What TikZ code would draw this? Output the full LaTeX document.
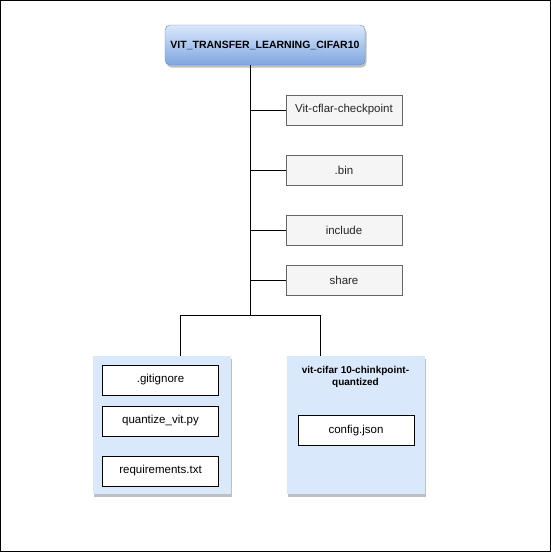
\documentclass[tikz,border=0pt]{standalone}
\usepackage{fontspec}
\setmainfont{Liberation Sans}
\usetikzlibrary{shadows}
\definecolor{rootTop}{HTML}{DAE8FC}
\definecolor{rootBot}{HTML}{7EA6E0}
\definecolor{rootLine}{HTML}{6C8EBF}
\definecolor{grayFill}{HTML}{F5F5F5}
\definecolor{grayLine}{HTML}{666666}
\definecolor{contFill}{HTML}{DAE8FC}
\tikzset{
  x=1pt, y=-1pt,
  every node/.style={inner sep=0pt, outer sep=0pt},
  rootbox/.style={draw=rootLine, rounded corners=5pt, top color=rootTop, bottom color=rootBot,
     minimum width=200pt, minimum height=40pt, font=\fontsize{10.5}{12}\selectfont\bfseries,
     drop shadow={shadow xshift=1.5pt, shadow yshift=-2.5pt, opacity=0.25, fill=black}},
  graybox/.style={draw=grayLine, fill=grayFill, minimum width=116pt, minimum height=30pt,
     font=\fontsize{11.5}{13}\selectfont, text=black!85},
  contbox/.style={fill=contFill, minimum width=138pt, minimum height=138pt,
     drop shadow={shadow xshift=1.5pt, shadow yshift=-2.5pt, opacity=0.25, fill=black}},
  filebox/.style={draw=black, fill=white, minimum width=116pt, minimum height=30pt,
     font=\fontsize{11.5}{13}\selectfont},
  conttitle/.style={font=\fontsize{10}{12.5}\selectfont\bfseries, align=center},
  link/.style={draw=black, line width=1pt},
}
\begin{document}
\begin{tikzpicture}
\useasboundingbox (0,0) rectangle (551,552);
\draw[line width=1pt] (0.5,0.5) rectangle (550.5,551.5);
% root
\node[rootbox] (root) at (265,45) {VIT\_TRANSFER\_LEARNING\_CIFAR10};
% gray children
\node[graybox] (ckpt) at (344,110) {Vit-cflar-checkpoint};
\node[graybox] (bin) at (344,170) {.bin};
\node[graybox] (inc) at (344,230) {include};
\node[graybox] (shr) at (344,280) {share};
% containers
\node[contbox] (cl) at (161.5,425) {};
\node[contbox] (cr) at (355.5,425) {};
\node[filebox] (git) at (160.5,380) {.gitignore};
\node[filebox] (qv) at (160.5,421) {quantize\_vit.py};
\node[filebox] (req) at (160.5,471) {requirements.txt};
\node[conttitle] (crt) at (355.5,377) {vit-cifar 10-chinkpoint-\\quantized};
\node[filebox] (cfg) at (356,430.5) {config.json};
% connectors
\coordinate (trunk) at (250,65);
\coordinate (j) at (250,315);
\draw[link] (trunk) -- (j);
\draw[link] (trunk |- ckpt.west) -- (ckpt.west);
\draw[link] (trunk |- bin.west) -- (bin.west);
\draw[link] (trunk |- inc.west) -- (inc.west);
\draw[link] (trunk |- shr.west) -- (shr.west);
\draw[link] (j) -| (180,356);
\draw[link] (j) -| (320,356);
\end{tikzpicture}
\end{document}
